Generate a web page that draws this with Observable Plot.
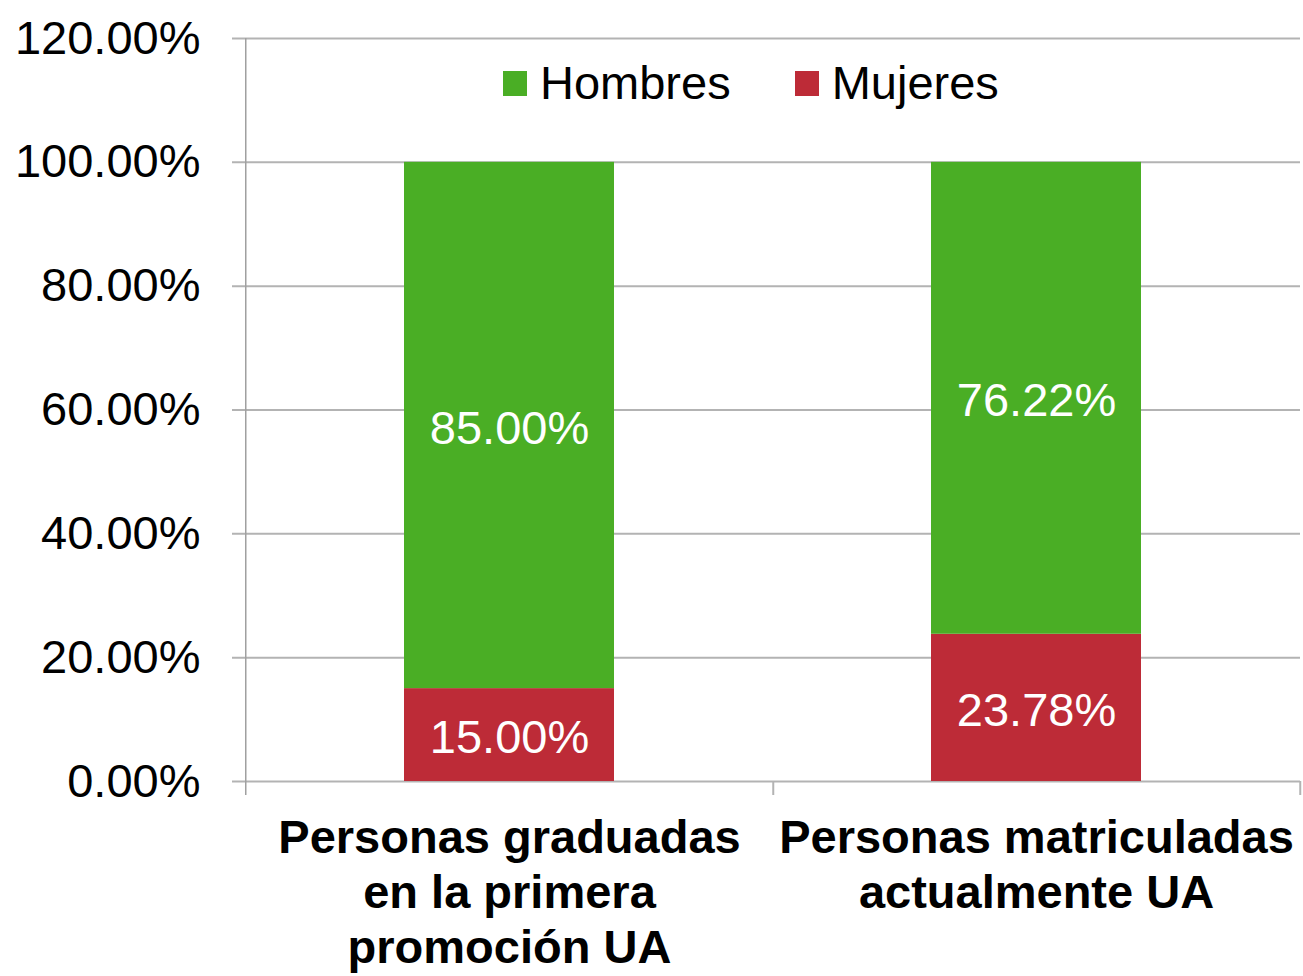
<!DOCTYPE html>
<html>
<head>
<meta charset="utf-8">
<script src="https://cdn.jsdelivr.net/npm/d3@7"></script>
<script src="https://cdn.jsdelivr.net/npm/@observablehq/plot@0.6"></script>
<style>
  html, body { margin: 0; padding: 0; background: #fff; }
  #wrap { position: relative; width: 1303px; height: 976px; font-family: "Liberation Sans", Arial, sans-serif; }
  #legend { position: absolute; left: 503px; top: 56px; display: flex; align-items: center; font-size: 47px; color: #000; line-height: 54px; }
  .sw { width: 24px; height: 25px; display: inline-block; margin-right: 13px; }
  .item { display: flex; align-items: center; }
</style>
</head>
<body>
<div id="wrap"><div id="legend"></div></div>
<script>
const categories = ["Personas graduadas\nen la primera\npromoción UA", "Personas matriculadas\nactualmente UA"];
const series = ["Mujeres", "Hombres"];
const mujeres = [15.00, 23.78];
const hombres = [85.00, 76.22];
const colors = ["#bd2b37", "#4aae25"];
const yTicks = [0, 20, 40, 60, 80, 100, 120];
const legendOrder = ["Hombres", "Mujeres"];

const rows = [];
categories.forEach((c, i) => {
  const m = mujeres[i], h = hombres[i];
  rows.push({cat: c, series: "Mujeres", value: m, y1: 0, y2: m, mid: m / 2});
  rows.push({cat: c, series: "Hombres", value: h, y1: m, y2: m + h, mid: m + h / 2});
});

const W = 1303, H = 976, mL = 245, mR = 3, mT = 38, mB = 195;
const step = (W - mL - mR) / categories.length;
const font = "'Liberation Sans', Arial, sans-serif";
const grid = "#b3b3b3";

const chart = Plot.plot({
  width: W, height: H,
  marginLeft: mL, marginRight: mR, marginTop: mT, marginBottom: mB,
  style: {fontFamily: font, fontSize: "47px", color: "#000", background: "white"},
  x: {domain: categories, paddingInner: 0.602, paddingOuter: 0.301, axis: null, label: null},
  y: {domain: [0, 120], axis: null, label: null},
  color: {domain: series, range: colors},
  marks: [
    Plot.ruleY(yTicks, {stroke: grid, strokeWidth: 2, insetLeft: -13}),
    Plot.ruleX([categories[0]], {x: d => d, dx: -step / 2, y1: 120, y2: 0, insetBottom: -14, stroke: "#a0a0a0", strokeWidth: 1.5}),
    Plot.ruleX(categories, {x: d => d, dx: step / 2, y1: 0, y2: 0, insetBottom: -14, stroke: grid, strokeWidth: 2}),
    Plot.barY(rows, {x: "cat", y1: "y1", y2: "y2", fill: "series"}),
    Plot.text(rows, {x: "cat", y: "mid", text: d => d.value.toFixed(2) + "%", fill: "white", fontSize: 47, dy: 3}),
    Plot.axisY({ticks: yTicks, tickFormat: d => d.toFixed(2) + "%", tickSize: 0, tickPadding: 45, fontSize: 47, label: null}),
    Plot.axisX({tickSize: 0, tickPadding: 32, fontSize: 47, fontWeight: "bold", lineHeight: 1.17, label: null})
  ]
});
document.getElementById("wrap").prepend(chart);

const legend = document.getElementById("legend");
legendOrder.forEach((s, i) => {
  const item = document.createElement("div");
  item.className = "item";
  if (i > 0) item.style.marginLeft = "64px";
  const sw = document.createElement("span");
  sw.className = "sw";
  sw.style.background = colors[series.indexOf(s)];
  const t = document.createElement("span");
  t.textContent = s;
  item.appendChild(sw);
  item.appendChild(t);
  legend.appendChild(item);
});
</script>
</body>
</html>
